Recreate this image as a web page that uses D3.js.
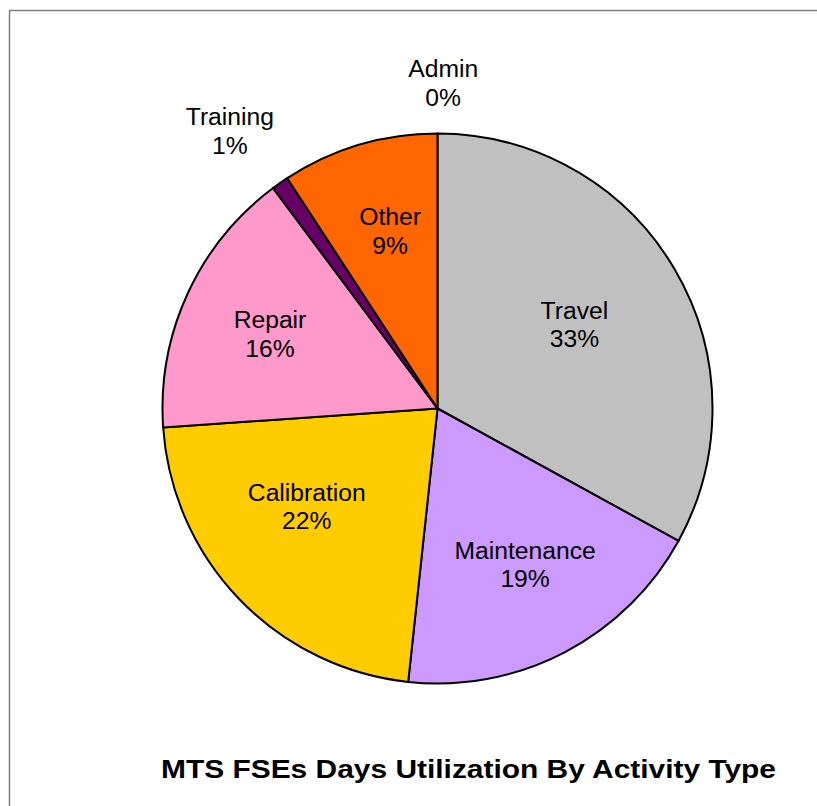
<!DOCTYPE html>
<html>
<head>
<meta charset="utf-8">
<script src="https://cdn.jsdelivr.net/npm/d3@7"></script>
<style>
  html, body { margin: 0; padding: 0; background: #fff; }
  svg { display: block; }
</style>
</head>
<body>
<script>
// ---- data ----
const categories = ["Travel", "Maintenance", "Calibration", "Repair", "Training", "Other", "Admin"];
const values = [33.0, 18.7, 22.2, 15.9, 1.0, 9.2, 0.0];
const colors = ["#C0C0C0", "#CC99FF", "#FFCC00", "#FF99CC", "#660066", "#FF6600", "#993366"];
const titleText = "MTS FSEs Days Utilization By Activity Type";

// ---- layout (style, not data) ----
const W = 817, H = 806;
const cx = 437.5, cy = 408.5, R = 275;
const labelRadius = [160.4, 179.3, 163.5, 183.3, 346.5, 183.7, 325.5];
const labelAngleNudge = [-0.8, -1.7, 7, -0.7, -1.9, 1.6, 1]; // degrees

const svg = d3.select("body").append("svg").attr("width", W).attr("height", H);

// chart frame
svg.append("path")
  .attr("d", `M9.5,${H} V10.5 H${W}`)
  .attr("fill", "none").attr("stroke", "#808080").attr("stroke-width", 1.5);

const total = d3.sum(values);
const data = categories.map((c, i) => ({
  name: c, value: values[i], color: colors[i], lr: labelRadius[i], nudge: labelAngleNudge[i] * Math.PI / 180
}));

const pie = d3.pie().sort(null).value(d => d.value).startAngle(0).endAngle(2 * Math.PI);
const arcs = pie(data);
const arc = d3.arc().innerRadius(0).outerRadius(R);

const g = svg.append("g").attr("transform", `translate(${cx},${cy})`);

g.selectAll("path.slice")
  .data(arcs.filter(d => d.data.value > 0))
  .join("path")
  .attr("class", "slice")
  .attr("d", arc)
  .attr("fill", d => d.data.color)
  .attr("stroke", "#000")
  .attr("stroke-width", 2)
  .attr("stroke-linejoin", "round");

// labels
const lbl = g.selectAll("g.lbl")
  .data(arcs)
  .join("g")
  .attr("class", "lbl")
  .attr("transform", d => {
    const a = (d.startAngle + d.endAngle) / 2 + d.data.nudge;
    const x = d.data.lr * Math.sin(a);
    const y = -d.data.lr * Math.cos(a);
    return `translate(${x},${y}) scale(1.05,1)`;
  });

lbl.append("text")
  .attr("text-anchor", "middle")
  .attr("font-family", "Liberation Sans, Arial, sans-serif")
  .attr("font-size", 23.5)
  .attr("fill", "#000")
  .attr("y", -6)
  .text(d => d.data.name);

lbl.append("text")
  .attr("text-anchor", "middle")
  .attr("font-family", "Liberation Sans, Arial, sans-serif")
  .attr("font-size", 23.5)
  .attr("fill", "#000")
  .attr("y", 22.5)
  .text(d => Math.round(d.data.value / total * 100) + "%");

// title
svg.append("text")
  .attr("x", 468.5)
  .attr("y", 777.5)
  .attr("text-anchor", "middle")
  .attr("font-family", "Liberation Sans, Arial, sans-serif")
  .attr("font-weight", "bold")
  .attr("font-size", 25)
  .attr("textLength", 615)
  .attr("lengthAdjust", "spacingAndGlyphs")
  .text(titleText);
</script>
</body>
</html>
